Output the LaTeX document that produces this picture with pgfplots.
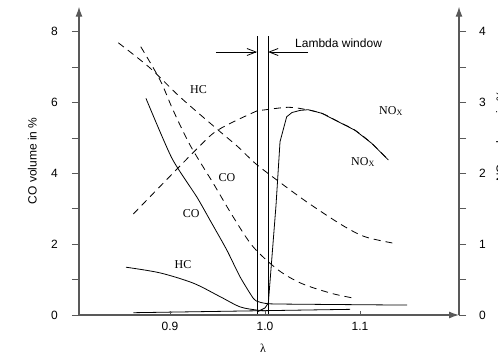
\documentclass[border=0pt]{standalone}
\usepackage{fontspec}
\setmainfont{Liberation Sans}
\newfontfamily\serif{Liberation Serif}
\usepackage{pgfplots}
\pgfplotsset{compat=1.18}
\usetikzlibrary{arrows.meta}

\pgfplotstableread{
x y
0.8456 7.69
0.8789 6.98
0.9105 6.16
0.9505 5.23
0.9716 4.75
0.9895 4.29
1.0126 3.81
1.0442 3.19
1.0811 2.54
1.1053 2.21
1.1350 2.03
}\hcdashed
\pgfplotstableread{
x y
0.8692 7.58
0.8895 6.64
0.9032 5.79
0.9211 4.80
0.9453 3.73
0.9663 2.78
0.9874 1.93
1.0140 1.27
1.0386 0.89
1.0702 0.61
1.0947 0.47
}\codashed
\pgfplotstableread{
x y
0.8747 6.12
0.9018 4.44
0.9281 3.34
0.9421 2.68
0.9597 1.84
0.9737 1.08
0.9877 0.47
0.9926 0.38
1.0000 0.33
1.0158 0.31
1.1495 0.28
}\cosolid
\pgfplotstableread{
x y
0.8537 1.35
0.8895 1.19
0.9245 0.90
0.9526 0.52
0.9737 0.23
0.9913 0.14
1.0000 0.12
}\hcsolid
\pgfplotstableread{
x y
0.8614 0.065
1.0895 0.160
}\lowline
\pgfplotstableread{
x y
0.9926 0.05
1.0000 0.10
1.0035 0.17
1.0116 1.554
1.0158 2.448
1.0228 2.80
1.0284 2.86
1.0368 2.89
1.0453 2.90
1.0597 2.85
1.0772 2.73
1.0947 2.61
1.1123 2.425
1.1298 2.19
}\noxsolid
\pgfplotstableread{
x y
0.8614 1.427
0.9281 2.345
0.9505 2.613
0.9895 2.871
0.9982 2.895
1.0245 2.934
1.0421 2.905
1.0597 2.85
1.0772 2.73
1.0947 2.61
1.1123 2.425
1.1298 2.19
}\noxdashed

\tikzset{
  axarrow/.style={-{Latex[length=10pt,width=7pt]}},
  curve/.style={black, line width=0.8pt},
  dcurve/.style={black, line width=0.8pt, dash pattern=on 7pt off 5pt},
}

\begin{document}
\fontsize{12}{14}\selectfont
\begin{tikzpicture}
\useasboundingbox (-79pt,-42pt) rectangle (419pt,315pt);
\pgfplotsset{
  base/.style={
    scale only axis, width=380pt, height=308.3pt,
    xmin=0.8042, xmax=1.2042, ymin=0,
    /pgf/number format/assume math mode=true,
    tick label style={font=\fontsize{12}{14}\selectfont},
    label style={font=\fontsize{12}{14}\selectfont},
    axis line style={line width=1.2pt, draw=black!65},
    tick style={line width=1pt, draw=black!65},
    clip=false,
  },
}
% left axis with CO / HC curves
\begin{axis}[base, ymax=8.71, hide x axis,
  axis y line*=left, y axis line style={axarrow},
  ytick={0,2,4,6,8}, minor ytick={1,3,5,7},
  tick align=outside, major tick length=7pt, minor tick length=7pt,
  yticklabel style={xshift=-10pt},
  ylabel={CO volume in \%},
  ylabel style={at={(axis description cs:-0.1118,0.5)}, anchor=base},
]
\addplot[dcurve, smooth] table {\hcdashed};
\addplot[dcurve, smooth] table {\codashed};
\addplot[curve, smooth, tension=0.4] table {\cosolid};
\addplot[curve, smooth] table {\hcsolid};
\addplot[curve] table {\lowline};
% lambda window
\addplot[curve] coordinates {(0.9916,0) (0.9916,7.88)};
\addplot[curve] coordinates {(1.0032,0) (1.0032,7.88)};
\addplot[curve, -{Straight Barb[length=9pt,width=7pt]}] coordinates {(0.9484,7.43) (0.9916,7.43)};
\addplot[curve, -{Straight Barb[length=9pt,width=7pt]}] coordinates {(1.0453,7.43) (1.0032,7.43)};
\node[anchor=west, inner sep=0pt] at (axis cs:1.0316,7.68) {Lambda window};
% curve labels
\node[inner sep=0pt] at (axis cs:0.9300,6.36) {\serif HC};
\node[inner sep=0pt] at (axis cs:0.9600,3.87) {\serif CO};
\node[inner sep=0pt] at (axis cs:0.9224,2.87) {\serif CO};
\node[inner sep=0pt] at (axis cs:0.9137,1.43) {\serif HC};
\node[inner sep=0pt] at (axis cs:1.1326,5.76) {\serif NO\textsubscript{X}};
\node[inner sep=0pt] at (axis cs:1.1032,4.32) {\serif NO\textsubscript{X}};
\end{axis}
% bottom axis
\begin{axis}[base, ymax=8.71, hide y axis,
  axis x line*=bottom, x axis line style={axarrow},
  xtick={0.9,1.0,1.1}, xticklabels={0.9,1.0,1.1},
  tick align=inside, major tick length=4pt,
  xticklabel style={yshift=-3pt},
  xlabel={\serif λ},
  xlabel style={at={(axis description cs:0.484,0)}, anchor=center, yshift=-33pt},
]
\addplot[draw=none] coordinates {(1,1)};
\end{axis}
% right axis with NOx curves
\begin{axis}[base, ymax=4.355, hide x axis,
  axis y line*=right, y axis line style={axarrow},
  ytick={0,1,2,3,4}, minor ytick={0.5,1.5,2.5,3.5},
  tick align=outside, major tick length=7pt, minor tick length=7pt,
  yticklabel style={xshift=9pt},
  ylabel={NO\textsubscript{x} volume in \%},
  ylabel style={at={(axis description cs:1.121,0.58)}, anchor=base},
]
\addplot[curve] table {\noxsolid};
\addplot[dcurve, smooth] table {\noxdashed};
\end{axis}
\end{tikzpicture}
\end{document}
